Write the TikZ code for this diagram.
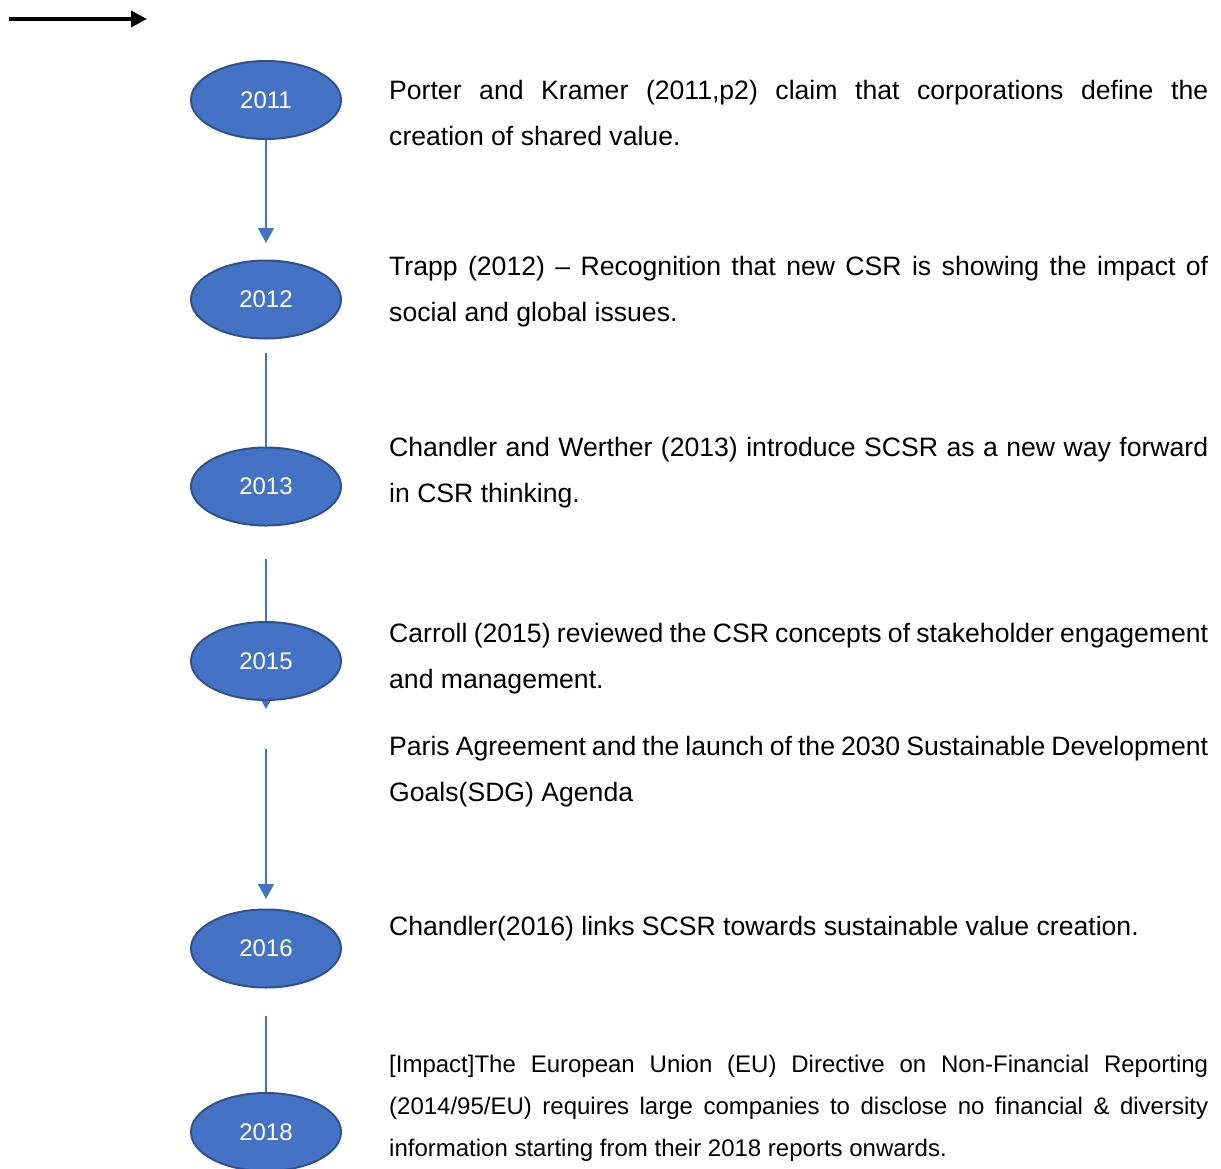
\documentclass[tikz,border=0pt]{standalone}
\usepackage{fontspec}
\setmainfont{Liberation Sans}
\usetikzlibrary{arrows.meta,backgrounds,shapes.geometric}
\definecolor{yrfill}{HTML}{4472C4}
\definecolor{yrline}{HTML}{2F528F}
\definecolor{conn}{HTML}{4472C4}
\newcommand{\jline}[1]{\hbox to 819pt{#1}}
\newcommand{\pline}[1]{\hbox{#1}}
\begin{document}
\begin{tikzpicture}[x=1pt,y=-1pt,
  year/.style={ellipse,fill=yrfill,draw=yrline,line width=2pt,minimum width=150pt,minimum height=78pt,inner sep=0pt,text=white,font=\fontsize{24}{28}\selectfont},
  link/.style={draw=conn,line width=1.5pt},
  linkarrow/.style={link,-{Triangle[length=15pt,width=16pt]}},
  mainbody/.style={anchor=base west,inner sep=0pt,font=\fontsize{26.6}{46}\selectfont},
  smallbody/.style={anchor=base west,inner sep=0pt,font=\fontsize{24}{42}\selectfont}]
\useasboundingbox (0,0) rectangle (1221,1168);
% black arrow at top left
\coordinate (ha) at (9,19);
\coordinate (hb) at (147,19);
\draw[line width=3.6pt,-{Triangle[length=16pt,width=16pt]}] (ha) -- (hb);
% year ellipses
\node[year] (e2011) at (266,100) {2011};
\node[year] (e2012) at (266,299.5) {2012};
\node[year] (e2013) at (266,486.5) {2013};
\node[year] (e2015) at (266,661) {2015};
\node[year] (e2016) at (266,948.5) {2016};
\node[year] (e2018) at (266,1132) {2018};
% connector end points
\coordinate (a1) at (266,243);
\coordinate (s2) at (266,353);
\coordinate (s3) at (266,559);
\coordinate (a4) at (266,709);
\coordinate (s5) at (266,749);
\coordinate (a5) at (266,899);
\coordinate (s6) at (266,1016);
\draw[linkarrow] (e2011.south) -- (a1);
\draw[link] (s2) -- (e2013.north);
\draw[link] (s3) -- (e2015.north);
\begin{scope}[on background layer]
\draw[linkarrow] (e2015.center) -- (a4);
\end{scope}
\draw[linkarrow] (s5) -- (a5);
\draw[link] (s6) -- (e2018.north);
% texts
\node[mainbody] (t1) at (389,99) {\vtop{\baselineskip=46pt
  \jline{Porter and Kramer (2011,p2) claim that corporations define the}
  \pline{creation of shared value.}}};
\node[mainbody] (t2) at (389,275) {\vtop{\baselineskip=46pt
  \jline{Trapp (2012) – Recognition that new CSR is showing the impact of}
  \pline{social and global issues.}}};
\node[mainbody] (t3) at (389,456) {\vtop{\baselineskip=46pt
  \jline{Chandler and Werther (2013) introduce SCSR as a new way forward}
  \pline{in CSR thinking.}}};
\node[mainbody] (t4) at (389,642) {\vtop{\baselineskip=46pt
  \jline{Carroll (2015) reviewed the CSR concepts of stakeholder engagement}
  \pline{and management.}}};
\node[mainbody] (t5) at (389,755) {\vtop{\baselineskip=46pt
  \jline{Paris Agreement and the launch of the 2030 Sustainable Development}
  \pline{Goals(SDG) Agenda}}};
\node[mainbody] (t6) at (389,935) {Chandler(2016) links SCSR towards sustainable value creation.};
\node[smallbody] (t7) at (389,1072) {\vtop{\baselineskip=42pt
  \jline{[Impact]The European Union (EU) Directive on Non-Financial Reporting}
  \jline{(2014/95/EU) requires large companies to disclose no financial \& diversity}
  \pline{information starting from their 2018 reports onwards.}}};
\end{tikzpicture}
\end{document}
